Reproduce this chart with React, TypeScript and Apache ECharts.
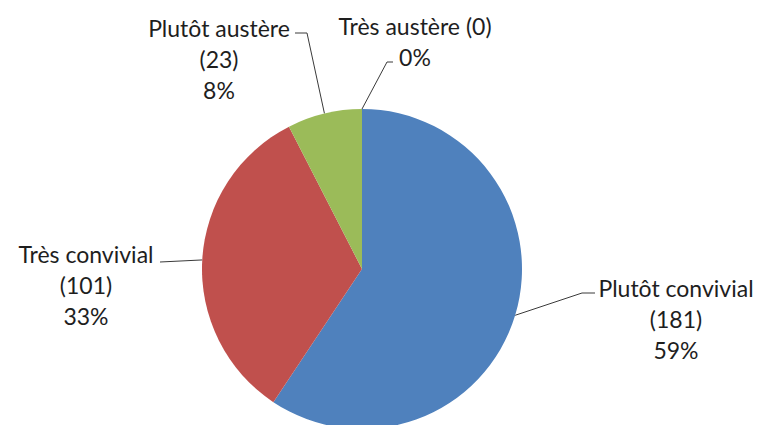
import React, { useEffect, useRef } from "react";
import * as echarts from "echarts";

const categories = ["Plutôt convivial", "Très convivial", "Plutôt austère", "Très austère"];
const counts = [181, 101, 23, 0];
const colors = ["#4F81BD", "#C0504D", "#9BBB59", "#8064A2"];

// label block centre, elbow point and end point of each leader line (layout only)
const labelCenters = [[676, 319], [86, 285], [219, 59], [415, 41]];
const labelElbows = [[582, 293], [160, 262], [307, 33], [387, 62]];
const labelEnds = [[595, 293], [160, 262], [295, 33], [393, 62]];

export default function App() {
  const ref = useRef<HTMLDivElement>(null);
  useEffect(() => {
    if (!ref.current) return;
    const chart = echarts.init(ref.current, null, { renderer: "svg" });
    chart.setOption({
      animation: false,
      backgroundColor: "#ffffff",
      series: [
        {
          type: "pie",
          center: [362, 269],
          radius: 160,
          startAngle: 90,
          clockwise: true,
          percentPrecision: 0,
          avoidLabelOverlap: false,
          minShowLabelAngle: 0,
          itemStyle: { borderWidth: 0 },
          emphasis: { disabled: true },
          label: {
            show: true,
            position: "outside",
            color: "#1e1e1e",
            fontFamily: "Lato",
            fontSize: 23,
            lineHeight: 31,
            align: "center",
            formatter: (p: any) =>
              p.value === 0
                ? `${p.name} (${p.value})\n${p.percent}%`
                : `${p.name}\n(${p.value})\n${p.percent}%`,
          },
          labelLine: {
            show: true,
            lineStyle: { color: "#3a3a3a", width: 1 },
          },
          labelLayout: (params: any) => {
            const i = params.dataIndex;
            const start =
              params.labelLinePoints && params.labelLinePoints[0]
                ? params.labelLinePoints[0]
                : [362, 109];
            return {
              x: labelCenters[i][0],
              y: labelCenters[i][1],
              align: "center",
              verticalAlign: "middle",
              labelLinePoints: [start, labelElbows[i], labelEnds[i]],
            };
          },
          data: categories.map((name, i) => ({
            name,
            value: counts[i],
            itemStyle: { color: colors[i] },
          })),
        },
      ],
    });
    return () => chart.dispose();
  }, []);
  return (
    <div
      ref={ref}
      style={{ position: "absolute", left: 0, top: 0, width: 760, height: 425 }}
    />
  );
}
